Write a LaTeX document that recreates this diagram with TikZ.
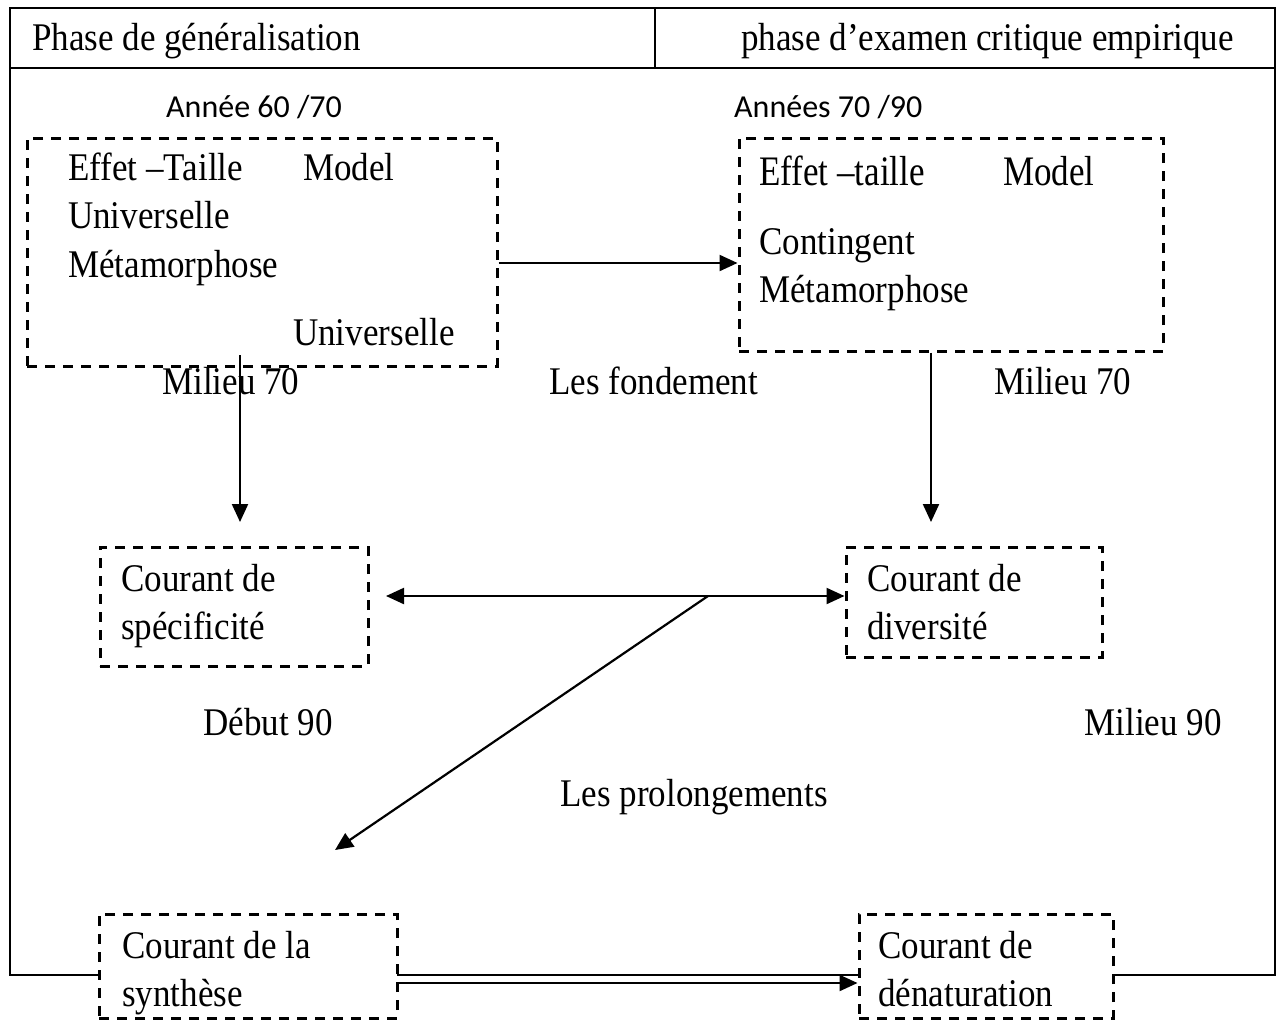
\documentclass[tikz,border=0pt]{standalone}
\usepackage{fontspec}
\usepackage{graphicx}
\setmainfont{Liberation Serif}
\newfontfamily\calfont{Carlito}
\usetikzlibrary{arrows.meta}

% slightly tall serif lettering
\newcommand\tl[1]{\scalebox{1}[1.12]{#1}}
\newcommand\tll[1]{\scalebox{1}[1.2]{#1}}

\tikzset{
  frameline/.style={line width=2.2pt},
  dbox/.style={draw, line width=3pt, dash pattern=on 10pt off 8pt,
    fill=white, inner sep=0pt},
  arr/.style={line width=2.2pt, -{Triangle[length=18pt,width=16pt]}},
  darr/.style={line width=2.2pt,
    {Triangle[length=18pt,width=16pt]}-{Triangle[length=18pt,width=16pt]}},
  txt/.style={anchor=base west, inner sep=0pt,
    font=\fontsize{35}{40}\selectfont},
  ctxt/.style={anchor=base, inner sep=0pt,
    font=\fontsize{35}{40}\selectfont},
  yr/.style={anchor=base west, inner sep=0pt,
    font=\calfont\fontsize{32}{36}\selectfont},
}

\begin{document}
\begin{tikzpicture}[x=1pt,y=-1pt]
\useasboundingbox (0,0) rectangle (1277,1021);

% outer frame with its header row
\draw[frameline] (10,8) rectangle (1275,975);
\draw[frameline] (10,68) -- (1275,68);
\draw[frameline] (655,8) -- (655,68);

\node[txt] (h1) at (32,50) {\tl{Phase de généralisation}};
\node[txt] (h2) at (741,50) {\tl{phase d’examen critique empirique}};

% periods
\node[yr] (y1) at (166,117) {Année 60 /70};
\node[yr] (y2) at (734,117) {Années 70 /90};

% dashed boxes
\node[dbox, minimum width=470pt, minimum height=228pt] (b1) at (262,252) {};
\node[dbox, minimum width=424pt, minimum height=213pt] (b2) at (951,244.5) {};
\node[dbox, minimum width=268pt, minimum height=119pt] (spec) at (234,606.5) {};
\node[dbox, minimum width=256pt, minimum height=110pt] (div) at (974,602) {};
\node[dbox, minimum width=298pt, minimum height=104pt] (syn) at (248,966) {};
\node[dbox, minimum width=254pt, minimum height=104pt] (den) at (986,966) {};

% contents of the first box
\node[txt] (t11) at (68,180) {\tl{Effet –Taille}};
\node[txt] (t12) at (303,180) {\tl{Model}};
\node[txt] (t13) at (68,228) {\tl{Universelle}};
\node[txt] (t14) at (68,277) {\tl{Métamorphose}};
\node[txt] (t15) at (293,345) {\tl{Universelle}};

% contents of the second box
\node[txt] (t21) at (759,185) {\tll{Effet –taille}};
\node[txt] (t22) at (1003,185) {\tll{Model}};
\node[txt] (t23) at (759,254) {\tl{Contingent}};
\node[txt] (t24) at (759,302) {\tl{Métamorphose}};

% labels between the rows
\node[txt] (m1) at (162,394) {\tl{Milieu 70}};
\node[txt] (lf) at (549,394) {\tl{Les fondement}};
\node[txt] (m2) at (994,394) {\tl{Milieu 70}};

% currents
\node[txt] (s1) at (121,591) {\tl{Courant de}};
\node[txt] (s2) at (121,639) {\tl{spécificité}};
\node[txt] (d1) at (867,591) {\tl{Courant de}};
\node[txt] (d2) at (867,639) {\tl{diversité}};

\node[ctxt] (db) at (268,735) {\tl{Début 90}};
\node[ctxt] (mi) at (1153,735) {\tl{Milieu 90}};
\node[ctxt] (lp) at (694,806) {\tl{Les prolongements}};

\node[txt] (y11) at (122,958) {\tl{Courant de la}};
\node[txt] (y12) at (122,1006) {\tl{synthèse}};
\node[txt] (z11) at (878,958) {\tl{Courant de}};
\node[txt] (z12) at (878,1006) {\tl{dénaturation}};

% connector ends
\coordinate (v1s) at (240,355);
\coordinate (v1e) at (240,522);
\coordinate (v2e) at (931,522);
\coordinate (da) at (386,596);
\coordinate (dj) at (708,596);
\coordinate (dg) at (335,850);

% connectors
\draw[arr] (b1.east |- 0,263) -- (b2.west |- 0,263);
\draw[arr] (v1s) -- (v1e);
\draw[arr] (b2.south -| v2e) -- (v2e);
\draw[darr] (da) -- (div.west |- da);
\draw[arr] (dj) -- (dg);
\draw[arr] (syn.east |- 0,983) -- (den.west |- 0,983);
\end{tikzpicture}
\end{document}
